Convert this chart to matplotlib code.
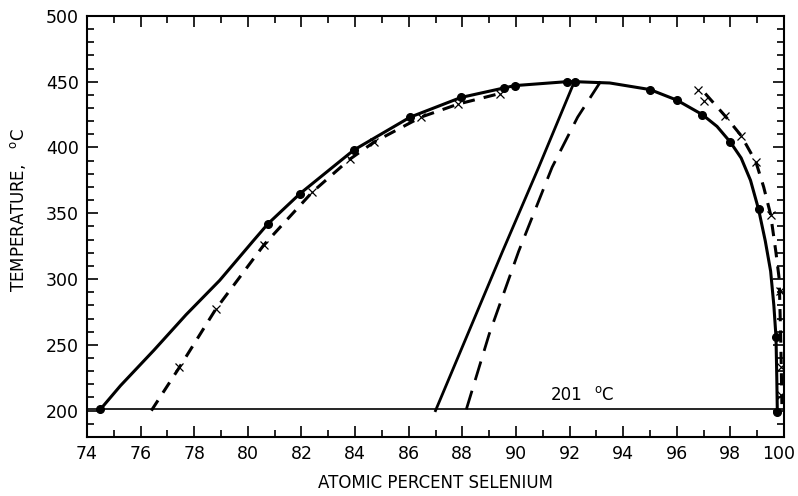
import matplotlib.pyplot as plt
from matplotlib.ticker import MultipleLocator, FuncFormatter

plt.rcParams['font.family'] = ['Liberation Sans Narrow', 'DejaVu Sans Condensed', 'DejaVu Sans']

# measured points (filled circles)
dot_x = [74.5, 80.75, 81.95, 83.95, 86.05, 87.95, 89.55, 89.95, 91.9, 92.2,
         95.0, 96.0, 96.95, 98.0, 99.05, 99.7, 99.75]
dot_y = [201, 342, 365, 398, 423, 438, 445, 447, 450, 450,
         444, 436, 425, 404, 353, 256, 199]

# measured points (crosses)
x_x = [77.45, 78.8, 80.6, 82.4, 83.8, 84.7, 86.45, 87.85, 89.4,
       96.8, 97.0, 97.8, 98.4, 98.95, 99.5, 99.85, 99.88, 99.9]
x_y = [233, 277, 326, 366, 391, 404, 423, 433, 441,
       444, 435, 424, 409, 389, 349, 291, 233, 212]

# solid boundary curve
solid_x = [74.5, 75.25, 76.5, 77.7, 78.95, 80.2, 80.75, 81.95, 83.95, 86.05, 87.95,
           89.95, 91.9, 92.2, 93.5, 95.0, 96.0, 96.95, 97.5, 98.0, 98.4, 98.75,
           99.05, 99.3, 99.5, 99.62, 99.7, 99.73, 99.75]
solid_y = [201, 219, 246, 273, 299, 329, 342, 365, 398, 423, 438,
           447, 450, 450, 449, 444, 436, 425, 416, 404, 392, 375,
           353, 329, 306, 280, 256, 225, 199]

# dashed boundary curves
dash_l_x = [76.4, 77.45, 78.8, 80.6, 82.4, 83.8, 84.7, 86.45, 87.85, 89.4]
dash_l_y = [200, 233, 277, 326, 366, 391, 404, 423, 433, 441]
dash_r_x = [97.06, 97.8, 98.4, 98.95, 99.24, 99.5, 99.7, 99.82, 99.87, 99.9, 99.92]
dash_r_y = [441, 424, 409, 389, 370, 349, 320, 300, 260, 230, 205]

# inner lines
inner_s_x = [87.0, 89.5, 90.85, 92.2]
inner_s_y = [200, 321, 385, 451]
inner_d_x = [88.15, 89.0, 90.1, 91.35, 92.3, 93.25]
inner_d_y = [201, 258, 321, 385, 423, 453]

eutectic = 201

fig = plt.figure(figsize=(7.98, 4.96), dpi=100)
ax = fig.add_axes([0.109, 0.119, 0.8735, 0.849])

ax.plot(solid_x, solid_y, color='black', lw=2.2)
ax.plot(dash_l_x, dash_l_y, color='black', lw=2.2, dashes=(4, 3))
ax.plot(dash_r_x, dash_r_y, color='black', lw=2.2, dashes=(4, 3))
ax.plot(inner_s_x, inner_s_y, color='black', lw=2.0)
ax.plot(inner_d_x, inner_d_y, color='black', lw=2.0, dashes=(7, 4))
ax.axhline(eutectic, color='black', lw=1.2)

ax.plot(dot_x, dot_y, 'o', color='black', ms=5.5, zorder=3)
ax.plot(x_x, x_y, 'x', color='black', ms=6, mew=0.9, zorder=3)

ax.text(91.3, 205, '201', fontsize=12, ha='left', va='bottom')
ax.text(92.9, 205, r'$^{\mathrm{o}}$C', fontsize=12, ha='left', va='bottom')

ax.set_xlim(74, 100)
ax.set_ylim(180, 500)
ax.xaxis.set_major_locator(MultipleLocator(2))
ax.xaxis.set_minor_locator(MultipleLocator(1))
ax.yaxis.set_major_locator(MultipleLocator(50))
ax.yaxis.set_minor_locator(MultipleLocator(10))
# the "100" label is placed by hand below so it stays inside the figure
ax.xaxis.set_major_formatter(FuncFormatter(lambda v, p: '' if v >= 100 else f'{v:.0f}'))
ax.tick_params(which='both', direction='in', top=True, right=True, width=1.2)
ax.tick_params(which='major', length=8, labelsize=12.5, pad=6)
ax.tick_params(which='minor', length=5)
for s in ax.spines.values():
    s.set_linewidth(1.5)

ax.annotate('100', xy=(100, 0), xycoords=('data', 'axes fraction'),
            xytext=(-4, -6), textcoords='offset points',
            ha='center', va='top', fontsize=12.5)

ax.set_xlabel('ATOMIC PERCENT SELENIUM', fontsize=12, labelpad=8)
ax.set_ylabel(r'TEMPERATURE,   $^{\mathrm{o}}$C', fontsize=12)
ax.yaxis.set_label_coords(-0.085, 0.54)

fig.savefig('out.png', dpi=100)
